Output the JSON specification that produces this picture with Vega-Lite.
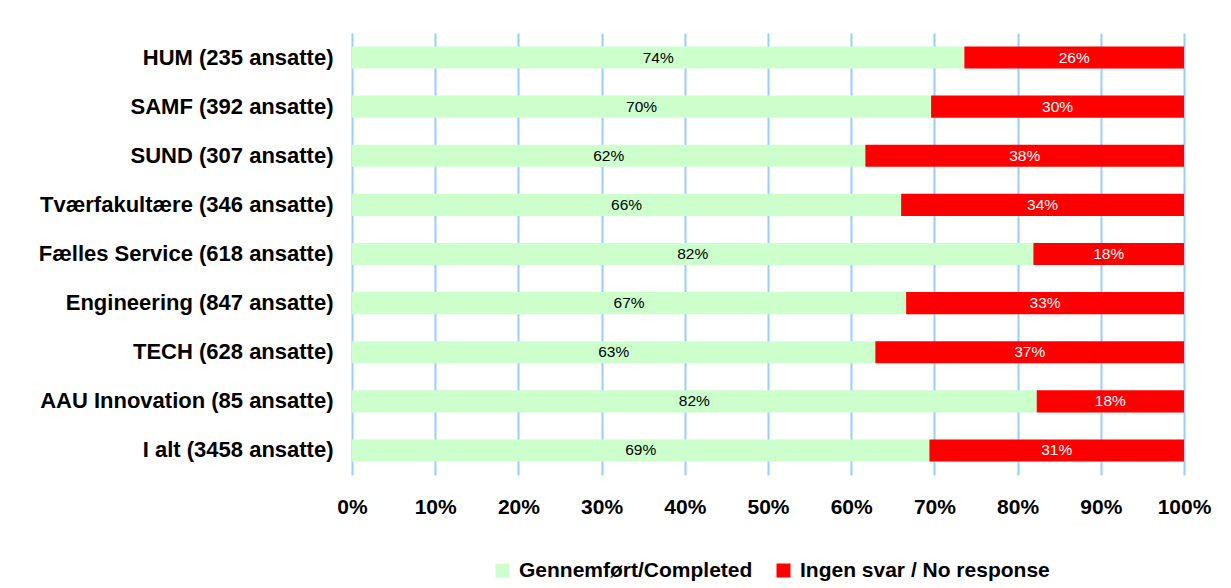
{
  "$schema": "https://vega.github.io/schema/vega-lite/v6.json",
  "width": 832,
  "height": 442,
  "autosize": {"type": "none"},
  "padding": {"left": 352, "top": 33, "right": 47, "bottom": 113},
  "background": "white",
  "config": {
    "view": {"stroke": null},
    "font": "Liberation Sans"
  },
  "data": {
    "values": [
      {"unit": "HUM (235 ansatte)", "status": "Gennemført/Completed", "value": 0.736},
      {"unit": "HUM (235 ansatte)", "status": "Ingen svar / No response", "value": 0.264},
      {"unit": "SAMF (392 ansatte)", "status": "Gennemført/Completed", "value": 0.696},
      {"unit": "SAMF (392 ansatte)", "status": "Ingen svar / No response", "value": 0.304},
      {"unit": "SUND (307 ansatte)", "status": "Gennemført/Completed", "value": 0.617},
      {"unit": "SUND (307 ansatte)", "status": "Ingen svar / No response", "value": 0.383},
      {"unit": "Tværfakultære (346 ansatte)", "status": "Gennemført/Completed", "value": 0.66},
      {"unit": "Tværfakultære (346 ansatte)", "status": "Ingen svar / No response", "value": 0.34},
      {"unit": "Fælles Service (618 ansatte)", "status": "Gennemført/Completed", "value": 0.819},
      {"unit": "Fælles Service (618 ansatte)", "status": "Ingen svar / No response", "value": 0.181},
      {"unit": "Engineering (847 ansatte)", "status": "Gennemført/Completed", "value": 0.666},
      {"unit": "Engineering (847 ansatte)", "status": "Ingen svar / No response", "value": 0.334},
      {"unit": "TECH (628 ansatte)", "status": "Gennemført/Completed", "value": 0.629},
      {"unit": "TECH (628 ansatte)", "status": "Ingen svar / No response", "value": 0.371},
      {"unit": "AAU Innovation (85 ansatte)", "status": "Gennemført/Completed", "value": 0.823},
      {"unit": "AAU Innovation (85 ansatte)", "status": "Ingen svar / No response", "value": 0.177},
      {"unit": "I alt (3458 ansatte)", "status": "Gennemført/Completed", "value": 0.694},
      {"unit": "I alt (3458 ansatte)", "status": "Ingen svar / No response", "value": 0.306}
    ]
  },
  "encoding": {
    "y": {
      "field": "unit",
      "type": "nominal",
      "sort": null,
      "title": null,
      "scale": {"paddingInner": 0.55, "paddingOuter": 0.275},
      "axis": {
        "domain": false,
        "ticks": false,
        "labelPadding": 19,
        "labelFont": "Liberation Sans",
        "labelFontSize": 22,
        "labelFontWeight": "bold",
        "labelColor": "black",
        "labelLimit": 400
      }
    }
  },
  "layer": [
    {
      "mark": {"type": "bar"},
      "encoding": {
        "x": {
          "field": "value",
          "type": "quantitative",
          "stack": "zero",
          "title": null,
          "scale": {"domain": [0, 1], "nice": false},
          "axis": {
            "format": ".0%",
            "values": [0, 0.1, 0.2, 0.3, 0.4, 0.5, 0.6, 0.7, 0.8, 0.9, 1],
            "domain": false,
            "ticks": false,
            "grid": true,
            "gridColor": "#99CCFF",
            "gridWidth": 2,
            "labelPadding": 21,
            "labelFont": "Liberation Sans",
            "labelFontSize": 21,
            "labelFontWeight": "bold",
            "labelColor": "black",
            "labelFlush": false
          }
        },
        "color": {
          "field": "status",
          "type": "nominal",
          "scale": {
            "domain": ["Gennemført/Completed", "Ingen svar / No response"],
            "range": ["#CCFFCC", "#FF0000"]
          },
          "legend": {
            "title": null,
            "orient": "none",
            "direction": "horizontal",
            "gridAlign": "none",
            "legendX": 140,
            "legendY": 527,
            "symbolType": "square",
            "symbolSize": 196,
            "symbolStrokeWidth": 0,
            "labelFont": "Liberation Sans",
            "labelFontSize": 21,
            "labelFontWeight": "bold",
            "labelColor": "black",
            "labelOffset": 6,
            "columnPadding": 20,
            "labelLimit": 400
          }
        },
        "order": {"field": "status", "sort": "ascending"}
      }
    },
    {
      "mark": {"type": "text", "font": "Liberation Sans", "fontSize": 15.5, "baseline": "middle", "align": "center"},
      "encoding": {
        "x": {"field": "value", "type": "quantitative", "stack": "zero", "bandPosition": 0.5},
        "detail": {"field": "status"},
        "order": {"field": "status", "sort": "ascending"},
        "text": {"field": "value", "type": "quantitative", "format": ".0%"},
        "color": {
          "condition": {"test": "datum.status === 'Ingen svar / No response'", "value": "white"},
          "value": "black"
        }
      }
    }
  ]
}
